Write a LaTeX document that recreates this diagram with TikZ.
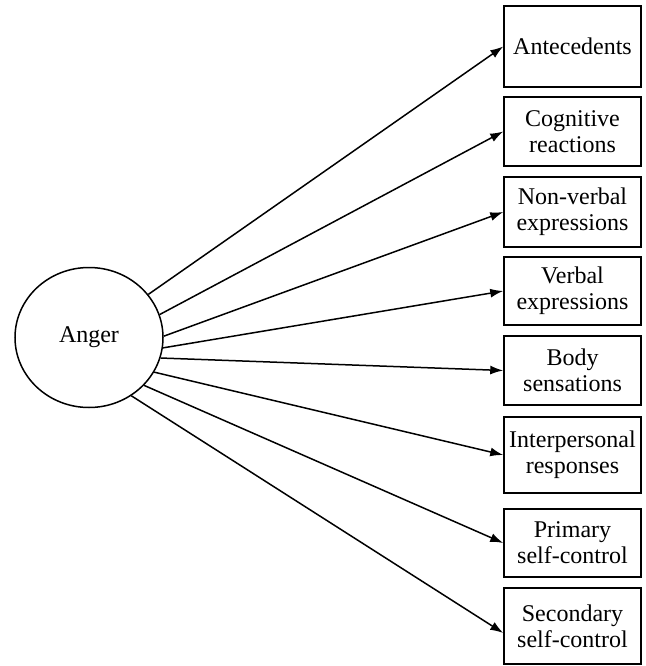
\documentclass[tikz,border=0pt]{standalone}
\usepackage{fontspec}
\setmainfont{Liberation Serif}
\tikzset{topic/.style = {draw, line width = 1.5pt, minimum width = 137, inner sep = 0, align = center, font = \fontsize{24}{26}\selectfont}}
\tikzset{link/.style = {line width = 1.5pt, -{Latex[length = 13pt, width = 9pt]}}}
\usetikzlibrary{arrows.meta,
                 shapes.geometric}

\begin{document}
\begin{tikzpicture}[x = 1pt, y = -1pt]
    \useasboundingbox (0, 0) rectangle (645, 666);
    \node [ellipse, draw, line width = 1.5pt, minimum width = 148, minimum height = 140, font = \fontsize{24}{26}\selectfont] (anger) at (89, 337.5) {Anger};
    \node [topic, minimum height = 81] (ante) at (572.5, 46.5) {Antecedents};
    \node [topic, minimum height = 69] (cogn) at (572.5, 131.5) {Cognitive\\reactions};
    \node [topic, minimum height = 70] (nonverb) at (572.5, 212) {Non-verbal\\expressions};
    \node [topic, minimum height = 68] (verb) at (572.5, 291) {Verbal\\expressions};
    \node [topic, minimum height = 69] (body) at (572.5, 370.5) {Body\\sensations};
    \node [topic, minimum height = 76] (inter) at (572.5, 455) {Interpersonal\\responses};
    \node [topic, minimum height = 68] (prim) at (572.5, 543) {Primary\\self-control};
    \node [topic, minimum height = 76] (second) at (572.5, 626) {Secondary\\self-control};
    \draw [link] (anger.36) -- (ante.west);
    \draw [link] (anger.18) -- (cogn.west);
    \draw [link] (anger.1) -- (nonverb.west);
    \draw [link] (anger.-8) -- (verb.west);
    \draw [link] (anger.-16) -- (body.west);
    \draw [link] (anger.-28) -- (inter.west);
    \draw [link] (anger.-41) -- (prim.west);
    \draw [link] (anger.-54) -- ([yshift = -7] second.west);
\end{tikzpicture}
\end{document}
